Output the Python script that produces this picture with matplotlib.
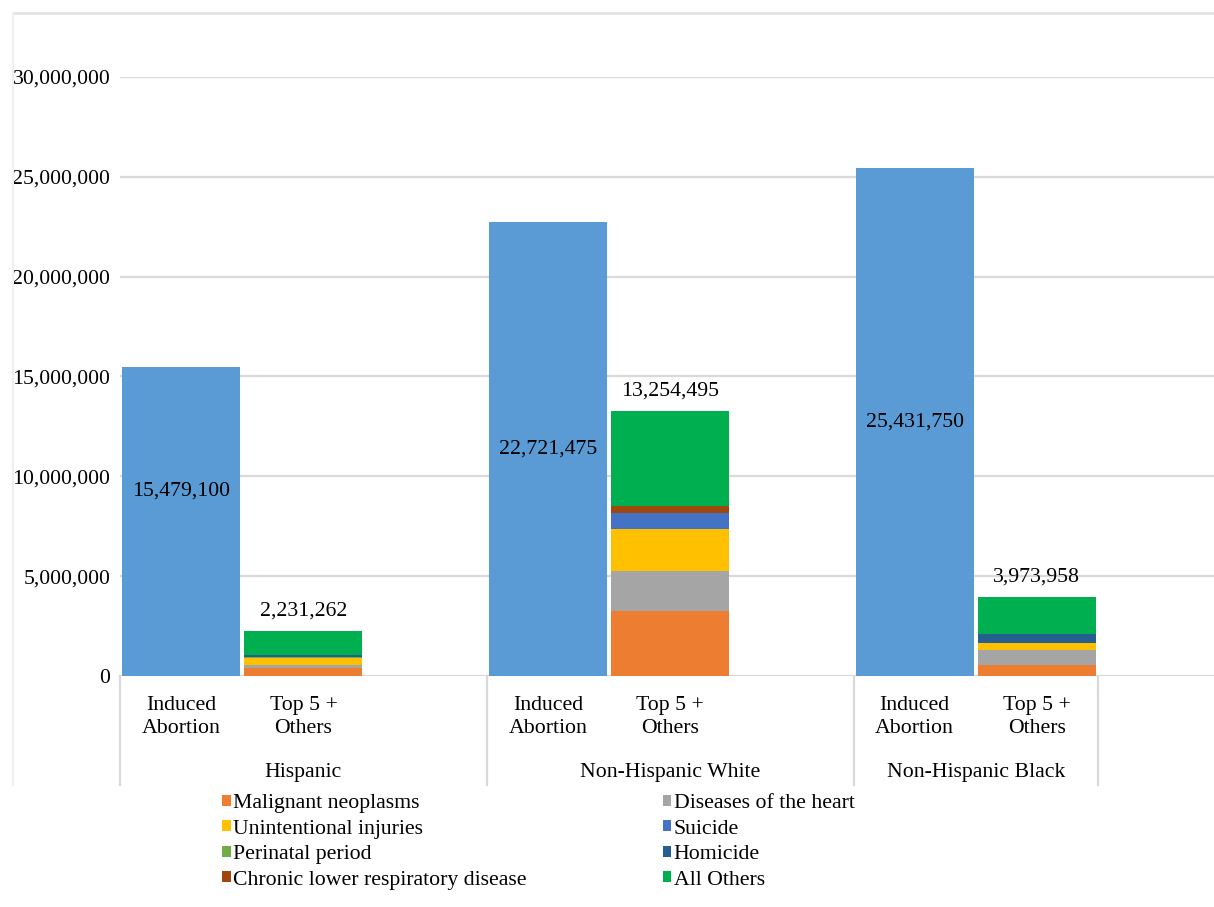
import matplotlib
matplotlib.use("Agg")
import matplotlib.pyplot as plt
from matplotlib.patches import Patch
from matplotlib.lines import Line2D
import numpy as np

plt.rcParams['font.family'] = ['Liberation Serif', 'DejaVu Serif']

groups = ["Hispanic", "Non-Hispanic White", "Non-Hispanic Black"]
bar_names = ["Induced\nAbortion", "Top 5 +\nOthers"]
induced_abortion = [15479100, 22721475, 25431750]
totals = [2231262, 13254495, 3973958]

causes = ["Malignant neoplasms", "Diseases of the heart", "Unintentional injuries",
          "Suicide", "Perinatal period", "Homicide",
          "Chronic lower respiratory disease", "All Others"]
malignant = [400000, 3250000, 550000]
heart = [150000, 2000000, 750000]
unintentional = [350000, 2100000, 330000]
suicide = [0, 800000, 0]
perinatal = [70000, 0, 0]
homicide = [70000, 0, 450000]
clrd = [0, 350000, 0]
all_others = [1191262, 4754495, 1893958]

cause_vals = [malignant, heart, unintentional, suicide, perinatal, homicide, clrd, all_others]
cause_colors = ["#ED7D31", "#A5A5A5", "#FFC000", "#4472C4", "#70AD47", "#255E91", "#9E480E", "#00B050"]
ia_color = "#5B9BD5"

W, H = 1214, 907
fig = plt.figure(figsize=(W / 100, H / 100), dpi=100)
ax = fig.add_axes([120 / W, 1 - 676 / H, (W - 120) / W, (676 - 77) / H])

FS = 15.7
slot = 122.25
ax.set_xlim(-0.5, -0.5 + (W - 120) / slot)
ax.set_ylim(0, 30000000)

bw = 0.965
ia_label_frac = [0.6, 0.5, 0.5]
for g in range(3):
    x_ia = g * 3
    x_t = g * 3 + 1
    ax.bar(x_ia, induced_abortion[g], width=bw, color=ia_color, zorder=3)
    ax.text(x_ia, induced_abortion[g] * ia_label_frac[g], f"{induced_abortion[g]:,}",
            ha="center", va="center", fontsize=FS, zorder=4)
    bottom = 0
    for vals, col in zip(cause_vals, cause_colors):
        if vals[g] > 0:
            ax.bar(x_t, vals[g], width=bw, bottom=bottom, color=col, zorder=3)
        bottom += vals[g]
    ax.annotate(f"{totals[g]:,}", (x_t, totals[g]), xytext=(0, 20), textcoords="offset pixels",
                ha="center", va="center", fontsize=FS)

yt = np.arange(0, 30000001, 5000000)
ax.set_yticks(yt)
ax.set_yticklabels([f"{int(v):,}" for v in yt], fontsize=FS)
ax.tick_params(axis="y", length=0, pad=7)
ax.set_xticks([])
for v in yt[1:]:
    ax.axhline(v, color="#D9D9D9", lw=1.6, zorder=1)
for s in ax.spines.values():
    s.set_visible(False)
ax.axhline(0, color="#D9D9D9", lw=1.6, zorder=2)

# category labels
trans = ax.get_xaxis_transform()
px = 1 / (676 - 77)
for g in range(3):
    for i, name in enumerate(bar_names):
        ax.text(g * 3 + i, -(717 - 676) * px, name, transform=trans, ha="center", va="center",
                fontsize=FS, linespacing=1.3)
    gc = g * 3 + (1.0 if g < 2 else 0.5)
    ax.text(gc, -(772 - 676) * px, groups[g], transform=trans, ha="center", va="center", fontsize=FS)
for xs in [-0.5, 2.5, 5.5, 7.5]:
    ax.plot([xs, xs], [0, -(785 - 676) * px], transform=trans, color="#D9D9D9", lw=1.6,
            clip_on=False)

# frame lines of chart area
fig.add_artist(Line2D([13 / W, 1], [1 - 13 / H, 1 - 13 / H], color="#E3E3E3", lw=2))
fig.add_artist(Line2D([13 / W, 13 / W], [1 - 13 / H, 1 - 785 / H], color="#F0F0F0", lw=1.5))

handles = [Patch(facecolor=c, label=n) for n, c in zip(causes, cause_colors)]
order = [0, 2, 4, 6, 1, 3, 5, 7]
leg = fig.legend([handles[i] for i in order], [causes[i] for i in order], ncol=2,
                 loc="upper left", bbox_to_anchor=(222 / W, 1 - 794 / H), frameon=False,
                 fontsize=FS, handlelength=0.4, handleheight=0.4, handletextpad=0.1,
                 columnspacing=6.25, labelspacing=0.3, borderaxespad=0, borderpad=0)

fig.savefig("out.png", dpi=100)
